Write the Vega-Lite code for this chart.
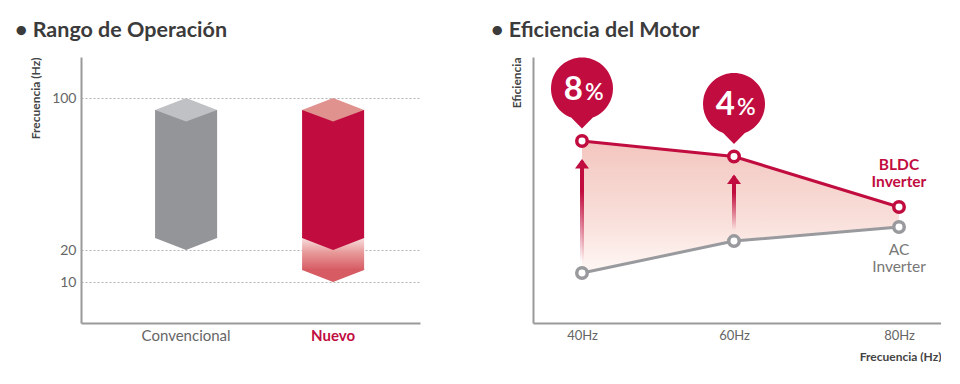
{
  "$schema": "https://vega.github.io/schema/vega-lite/v6.json",
  "background": "white",
  "padding": {"left": 15, "top": 19, "right": 0, "bottom": 0},
  "autosize": {"type": "pad"},
  "spacing": 71,
  "config": {"view": {"stroke": null}, "font": "Lato"},
  "datasets": {
    "rango": [
      {"tipo": "Convencional", "max": 100, "min": 20, "min_conv": 20},
      {"tipo": "Nuevo", "max": 100, "min": 10, "min_conv": 20}
    ],
    "eficiencia": [
      {"f": 40, "bldc": 68.4, "ac": 18.8, "pct": 8},
      {"f": 60, "bldc": 62.6, "ac": 30.8, "pct": 4},
      {"f": 80, "bldc": 43.6, "ac": 36.1, "pct": null}
    ]
  },
  "hconcat": [
    {
      "width": 339,
      "height": 266,
      "title": {"text": "• Rango de Operación", "anchor": "start", "frame": "group", "dx": -66, "fontSize": 21.5, "fontWeight": "bold", "color": "#3b3b3b", "offset": 16},
      "data": {"name": "rango"},
      "encoding": {
        "x": {
          "field": "tipo", "type": "nominal", "sort": ["Convencional", "Nuevo"],
          "scale": {"paddingInner": 0.578, "paddingOuter": 0.442, "align": 0.57},
          "axis": {
            "title": null, "ticks": false, "domainColor": "#9a9a9a", "domainWidth": 2, "labelAngle": 0,
            "labelFontSize": 15, "labelPadding": 5,
            "labelColor": {"condition": {"test": "datum.value == 'Nuevo'", "value": "#c10c3f"}, "value": "#666666"},
            "labelFontWeight": {"condition": {"test": "datum.value == 'Nuevo'", "value": "bold"}, "value": "normal"}
          }
        }
      },
      "layer": [
        {
          "transform": [{"filter": "datum.min < datum.min_conv"}],
          "mark": {"type": "bar", "yOffset": -12, "y2Offset": -12,
            "color": {"gradient": "linear", "x1": 0, "y1": 0, "x2": 0, "y2": 1,
              "stops": [{"offset": 0, "color": "#f8dede"}, {"offset": 0.45, "color": "#e89a9a"}, {"offset": 1, "color": "#d65b63"}]}},
          "encoding": {
            "y": {
              "field": "min_conv", "type": "quantitative",
              "scale": {"domain": [0, 10, 20, 100, 122], "range": [266, 225, 193, 41, 0], "nice": false, "zero": false},
              "axis": {
                "title": "Frecuencia (Hz)", "titleAnchor": "end", "titleFontSize": 12, "titleFontWeight": "bold", "titleColor": "#444444", "titlePadding": 9,
                "values": [10, 20, 100], "ticks": false, "labelFontSize": 14, "labelColor": "#666666", "labelPadding": 5,
                "domainColor": "#9a9a9a", "domainWidth": 2,
                "grid": true, "gridDash": [2, 2], "gridColor": "#b5b5b5", "gridWidth": 1
              }
            },
            "y2": {"field": "min"}
          }
        },
        {
          "transform": [{"filter": "datum.min < datum.min_conv"}],
          "mark": {"type": "point", "shape": "M -1 -0.42 L 1 -0.42 L 1 -0.387 L 0 0 L -1 -0.387 Z", "size": 3844, "filled": true, "opacity": 1, "strokeWidth": 0, "color": "#d65b63"},
          "encoding": {"y": {"field": "min", "type": "quantitative"}}
        },
        {
          "mark": {"type": "bar", "yOffset": 12, "y2Offset": -12},
          "encoding": {
            "y": {"field": "max", "type": "quantitative"},
            "y2": {"field": "min_conv"},
            "color": {"condition": {"test": "datum.tipo == 'Nuevo'", "value": "#c10c3f"}, "value": "#949599"}
          }
        },
        {
          "mark": {"type": "point", "shape": "M -1 -0.42 L 1 -0.42 L 1 -0.387 L 0 0 L -1 -0.387 Z", "size": 3844, "filled": true, "opacity": 1, "strokeWidth": 0},
          "encoding": {
            "y": {"field": "min_conv", "type": "quantitative"},
            "color": {"condition": {"test": "datum.tipo == 'Nuevo'", "value": "#c10c3f"}, "value": "#949599"}
          }
        },
        {
          "mark": {"type": "point", "shape": "M 0 0 L 1 0.387 L 0 0.758 L -1 0.387 Z", "size": 3844, "filled": true, "opacity": 1, "strokeWidth": 0},
          "encoding": {
            "y": {"field": "max", "type": "quantitative"},
            "color": {"condition": {"test": "datum.tipo == 'Nuevo'", "value": "#e0928e"}, "value": "#c0c1c5"}
          }
        }
      ]
    },
    {
      "width": 408,
      "height": 266,
      "title": {"text": "• Eficiencia del Motor", "anchor": "start", "frame": "group", "dx": -42, "fontSize": 21.5, "fontWeight": "bold", "color": "#3b3b3b", "offset": 16},
      "data": {"name": "eficiencia"},
      "encoding": {
        "x": {
          "field": "f", "type": "quantitative",
          "scale": {"domain": [30, 40, 60, 80, 90], "range": [0, 49, 201, 366, 408], "nice": false, "zero": false},
          "axis": {
            "title": "Frecuencia (Hz)", "titleAnchor": "end", "titleFontSize": 12, "titleFontWeight": "bold", "titleColor": "#444444", "titlePadding": 9,
            "values": [40, 60, 80], "labelExpr": "datum.value + 'Hz'", "ticks": false, "grid": false,
            "labelFontSize": 13, "labelColor": "#666666", "labelPadding": 6,
            "domainColor": "#9a9a9a", "domainWidth": 2
          }
        }
      },
      "layer": [
        {
          "mark": {"type": "area",
            "color": {"gradient": "linear", "x1": 0, "y1": 0, "x2": 0, "y2": 1,
              "stops": [{"offset": 0, "color": "#f3c6bf"}, {"offset": 0.6, "color": "#f9dfda"}, {"offset": 1, "color": "#fff8f6"}]}},
          "encoding": {
            "y": {
              "field": "bldc", "type": "quantitative",
              "scale": {"domain": [0, 100], "nice": false, "zero": false},
              "axis": {
                "title": "Eficiencia", "titleAnchor": "end", "titleFontSize": 12, "titleFontWeight": "bold", "titleColor": "#444444", "titlePadding": 10,
                "labels": false, "ticks": false, "grid": false, "domainColor": "#9a9a9a", "domainWidth": 2
              }
            },
            "y2": {"field": "ac"}
          }
        },
        {
          "transform": [{"filter": "isValid(datum.pct)"}],
          "mark": {"type": "bar", "width": 4, "yOffset": -11, "y2Offset": 20,
            "color": {"gradient": "linear", "x1": 0, "y1": 0, "x2": 0, "y2": 1,
              "stops": [{"offset": 0, "color": "#c10c3f"}, {"offset": 0.3, "color": "#c10c3f"}, {"offset": 1, "color": "rgba(193,12,63,0)"}]}},
          "encoding": {"y": {"field": "ac", "type": "quantitative"}, "y2": {"field": "bldc"}}
        },
        {
          "transform": [{"filter": "isValid(datum.pct)"}],
          "mark": {"type": "point", "shape": "M 0 0 L 1 1.35 L -1 1.35 Z", "size": 196, "filled": true, "opacity": 1, "strokeWidth": 0, "color": "#c10c3f", "yOffset": 18},
          "encoding": {"y": {"field": "bldc", "type": "quantitative"}}
        },
        {
          "mark": {"type": "line", "color": "#999a9e", "strokeWidth": 3},
          "encoding": {"y": {"field": "ac", "type": "quantitative"}}
        },
        {
          "mark": {"type": "line", "color": "#c10c3f", "strokeWidth": 3},
          "encoding": {"y": {"field": "bldc", "type": "quantitative"}}
        },
        {
          "mark": {"type": "point", "shape": "circle", "size": 110, "filled": true, "fill": "white", "stroke": "#999a9e", "strokeWidth": 3.5, "opacity": 1},
          "encoding": {"y": {"field": "ac", "type": "quantitative"}}
        },
        {
          "mark": {"type": "point", "shape": "circle", "size": 110, "filled": true, "fill": "white", "stroke": "#c10c3f", "strokeWidth": 3.5, "opacity": 1},
          "encoding": {"y": {"field": "bldc", "type": "quantitative"}}
        },
        {
          "transform": [{"filter": "isValid(datum.pct)"}],
          "mark": {"type": "point", "shape": "M 0 0 L -0.35 -0.353 A 1 1 0 1 1 0.35 -0.353 Z", "size": 3844, "filled": true, "opacity": 1, "strokeWidth": 0, "color": "#c10c3f", "yOffset": -12.5},
          "encoding": {"y": {"field": "bldc", "type": "quantitative"}}
        },
        {
          "transform": [{"filter": "isValid(datum.pct)"}],
          "mark": {"type": "text", "align": "right", "baseline": "alphabetic", "dx": 1, "dy": -41, "fontSize": 33, "fontWeight": "bold", "color": "white"},
          "encoding": {"y": {"field": "bldc", "type": "quantitative"}, "text": {"field": "pct"}}
        },
        {
          "transform": [{"filter": "isValid(datum.pct)"}],
          "mark": {"type": "text", "align": "left", "baseline": "alphabetic", "dx": 3, "dy": -41, "fontSize": 23, "fontWeight": 600, "color": "white", "text": "%"},
          "encoding": {"y": {"field": "bldc", "type": "quantitative"}}
        },
        {
          "transform": [{"filter": "datum.f == 80"}],
          "mark": {"type": "text", "align": "center", "baseline": "alphabetic", "dy": -37, "fontSize": 15.5, "fontWeight": "bold", "color": "#c10c3f", "lineHeight": 17, "text": ["BLDC", "Inverter"]},
          "encoding": {"y": {"field": "bldc", "type": "quantitative"}}
        },
        {
          "transform": [{"filter": "datum.f == 80"}],
          "mark": {"type": "text", "align": "center", "baseline": "alphabetic", "dy": 28, "fontSize": 15.5, "color": "#777777", "lineHeight": 17, "text": ["AC", "Inverter"]},
          "encoding": {"y": {"field": "ac", "type": "quantitative"}}
        }
      ]
    }
  ]
}
